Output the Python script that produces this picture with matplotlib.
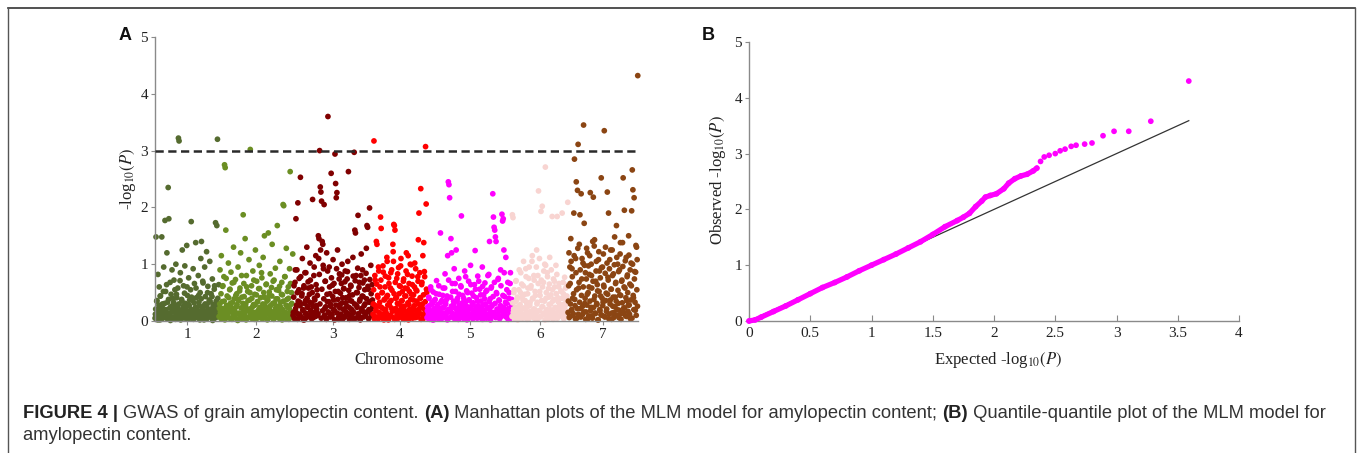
import matplotlib
matplotlib.use("Agg")
import matplotlib.pyplot as plt
from matplotlib.lines import Line2D

# ---------------- data ----------------
chrom_names = ["1", "2", "3", "4", "5", "6", "7"]
chrom_lengths = [64, 74, 80, 54, 85, 56, 70]
chrom_colors = ["#556b2f", "#6b8e23", "#800000", "#ff0000", "#ff00ff", "#f8d4d1", "#8b4513"]

# upper / scattered SNPs per chromosome (in order along the chromosome)
chr1 = [0.12,1.48,0.35,0.05,0.82,0.21,0.6,0.02,0.44,0.15,
        1.48,0.3,0.09,0.95,0.18,1.77,0.52,0.07,1.2,0.33,
        2.35,1.8,0.11,0.68,0.25,0.04,0.9,0.4,0.16,0.72,
        0.28,0.06,1.0,0.47,0.13,0.58,3.22,3.17,0.19,0.85,
        0.03,0.38,1.25,0.22,0.62,0.1,0.97,0.31,0.08,1.33,
        0.45,0.17,0.76,0.27,0.05,0.55,1.75,0.14,0.36,0.92,
        0.2,0.66,0.09,1.38,0.41,0.24,0.12,0.8,0.33,0.06,
        0.5,1.1,1.4,0.18,0.7,0.26,0.02,0.95,0.43,0.15,
        1.22,0.3,0.61,0.08,0.37,1.05,0.21,0.48,0.11,0.74,
        0.29,0.04,0.56,0.19,1.73,0.35,1.68,3.2,0.13,0.64]
chr2 = [0.22,0.9,0.05,1.15,0.34,0.61,0.13,0.78,2.75,2.7,
        1.6,0.27,0.44,0.08,1.02,0.19,0.55,0.31,0.86,0.04,
        0.67,0.16,1.3,0.39,0.1,0.73,0.25,0.48,0.02,0.95,
        0.36,0.14,0.58,1.2,0.07,0.42,0.23,1.87,0.66,0.11,
        1.45,0.3,0.8,0.18,0.52,0.06,1.08,0.37,3.02,0.21,
        0.62,0.09,0.88,0.29,0.15,0.47,1.25,0.03,0.7,0.34,
        0.12,0.57,0.98,0.24,0.41,0.08,0.76,0.19,1.12,0.5,
        1.5,0.27,0.05,0.65,0.35,0.14,1.55,0.44,0.22,0.83,
        0.1,0.59,1.35,0.31,0.04,0.72,0.17,0.93,0.39,0.26,
        1.68,0.12,0.54,0.07,1.05,0.33,0.2,0.68,0.46,2.05,
        2.03,0.15,0.78,0.09,1.28,0.38,0.24,0.6,0.03,0.92,
        2.63,0.29,0.5,0.11,1.18]
chr3 = [0.15,0.62,0.04,0.9,1.8,0.28,0.5,2.08,0.11,0.75,
        0.33,2.53,0.07,0.44,1.1,0.2,0.58,0.02,0.85,0.36,
        0.13,1.3,0.25,0.69,0.09,0.47,1.02,0.18,0.6,0.31,
        2.14,0.06,0.8,0.4,0.16,1.15,0.27,0.55,0.1,1.5,
        1.45,3.0,2.36,2.27,2.11,1.4,1.35,0.92,2.05,0.22,
        0.7,0.05,1.2,0.34,3.6,0.14,0.95,0.48,0.26,2.6,
        0.08,0.63,1.08,0.37,0.19,2.94,2.42,2.17,2.26,1.25,
        0.52,0.03,0.83,0.29,0.12,0.66,1.0,0.41,0.21,0.57,
        0.07,0.88,0.32,0.15,0.74,1.05,2.63,0.24,0.45,0.1,
        0.61,0.35,0.18,1.12,0.04,2.97,1.6,1.55,0.8,0.27,
        0.5,1.86,0.13,0.68,0.38,0.06,1.18,0.22,0.9,0.43,
        0.16,0.72,0.3,0.09,1.28,1.68,1.65,0.56,0.2,1.99,
        0.34,0.98,0.11,0.64,0.25]
chr4 = [0.3,3.17,0.08,0.72,0.19,1.4,1.35,0.45,0.04,0.88,
        0.26,0.6,1.83,1.63,0.12,0.5,0.97,0.21,0.37,0.06,
        0.79,0.15,0.42,1.05,0.28,0.02,0.66,0.33,0.1,0.85,
        0.23,0.54,0.07,1.22,1.7,1.68,1.6,0.4,0.17,0.75,
        0.31,0.05,0.94,0.48,0.13,0.61,1.1,0.25,0.36,0.09,
        0.7,0.2,0.03,0.58,0.44,1.2,0.14,0.82,1.15,0.29,
        0.52,0.08,0.38,0.99,0.18,0.64,0.11,0.46,0.27,1.02,
        0.06,0.55,0.35,0.16,0.78,1.43,1.9,0.22,0.41,2.33,
        0.12,0.68,0.3,0.04,1.38,0.87,0.19,3.07,2.06,0.5]
chr5 = [0.18,0.05,0.42,0.27,0.09,0.6,0.14,0.33,0.02,0.51,
        0.22,0.07,0.38,0.16,0.71,0.11,0.29,0.04,0.47,0.2,
        1.55,0.13,0.36,0.06,0.58,0.24,0.09,0.83,0.31,0.15,
        0.44,1.15,2.45,2.4,2.17,0.19,1.45,1.2,0.66,0.08,
        0.35,0.92,0.23,0.52,1.25,0.12,0.4,0.03,0.75,0.28,
        0.17,0.62,1.85,0.1,0.45,0.26,0.06,0.88,0.34,0.14,
        0.53,0.21,0.04,0.7,0.37,0.11,0.98,0.25,0.49,0.08,
        0.32,0.16,0.64,1.24,0.2,0.41,0.05,0.79,0.27,0.13,
        0.56,0.09,0.35,0.22,0.95,0.03,0.46,0.18,0.67,0.3,
        0.11,0.54,0.24,0.07,0.82,1.4,0.39,0.15,0.6,0.28,
        2.24,1.83,1.65,1.6,1.48,1.4,0.48,0.12,0.73,0.2,
        0.36,0.06,0.9,0.26,1.88,1.76,1.8,1.25,0.43,0.17,
        1.12,0.31,0.08,0.68,0.22,0.5,0.04,0.85,0.14,0.38]
chr6 = [1.87,1.82,0.2,0.55,0.08,0.34,0.71,0.15,0.42,0.03,
        0.26,0.9,0.12,0.5,0.19,0.65,0.06,0.37,1.05,0.23,
        0.47,0.1,0.78,0.31,0.14,0.58,0.04,0.95,0.28,0.17,
        0.62,0.09,1.15,0.39,0.21,0.72,0.05,0.45,0.13,1.25,
        0.33,0.8,2.29,0.18,0.52,0.07,1.93,0.36,2.02,0.25,
        0.68,0.11,1.0,2.71,0.4,0.16,0.85,0.03,0.57,0.29,
        1.12,0.2,0.46,0.09,1.84,0.35,0.74,0.14,0.6,0.24,
        0.98,0.06,1.84,0.41,0.19,0.66,0.3,0.1,0.53,0.22,
        1.9,0.12,0.48,0.05,0.77,0.27,0.38,0.15,0.63,2.09]
chr7 = [0.35,1.2,0.08,0.66,1.45,0.19,0.92,0.4,0.13,1.9,
        2.85,0.27,1.1,2.45,0.05,2.3,3.11,0.58,1.35,1.87,
        0.22,2.24,0.74,0.11,1.02,3.45,1.72,0.31,0.85,0.16,
        1.28,0.47,0.04,0.97,0.6,1.15,2.26,0.24,0.8,0.09,
        1.4,2.18,0.38,1.43,0.14,0.7,1.05,0.29,0.53,0.02,
        1.22,0.88,0.18,0.44,2.52,0.1,0.95,0.33,0.63,3.35,
        0.07,1.3,0.49,0.21,2.27,0.77,1.9,0.12,1.08,0.37,
        0.56,0.03,1.25,0.26,0.83,0.15,1.48,0.42,0.68,1.68,
        0.2,1.0,0.31,0.06,0.9,1.18,0.45,0.13,0.72,1.38,
        2.52,0.23,1.95,0.58,0.09,1.12,0.36,0.81,0.17,1.5,
        0.28,0.65,0.04,1.02,1.94,2.66,2.31,0.41,2.17,0.87,
        0.19,1.33,1.3,1.08,4.32]

# dense low-significance SNPs per chromosome
low1 = [0.05,0.21,0.1,0.36,0.02,0.15,0.28,0.08,0.44,0.12,
        0.03,0.25,0.17,0.52,0.06,0.31,0.11,0.2,0.64,0.04,
        0.14,0.38,0.09,0.23,0.01,0.47,0.16,0.27,0.07,0.33,
        0.19,0.55,0.03,0.12,0.41,0.24,0.06,0.3,0.1,0.71,
        0.02,0.18,0.35,0.08,0.26,0.13,0.49,0.05,0.22,0.15,
        0.6,0.04,0.29,0.11,0.37,0.07,0.2,0.42,0.09,0.16,
        0.03,0.32,0.13,0.24,0.58,0.06,0.19,0.1,0.45,0.27,
        0.02,0.14,0.39,0.08,0.22,0.67,0.05,0.17,0.3,0.11,
        0.26,0.04,0.5,0.13,0.2,0.07,0.35,0.16,0.09,0.43,
        0.01,0.23,0.12,0.62,0.18,0.06,0.28,0.1,0.4,0.15]
low2 = [0.08,0.3,0.15,0.48,0.04,0.22,0.62,0.11,0.35,0.02,
        0.19,0.75,0.07,0.27,0.13,0.41,0.05,0.56,0.17,0.24,
        0.03,0.33,0.1,0.68,0.2,0.06,0.45,0.14,0.29,0.01,
        0.38,0.12,0.53,0.08,0.23,0.8,0.04,0.31,0.16,0.43,
        0.09,0.26,0.02,0.6,0.18,0.36,0.07,0.21,0.5,0.13,
        0.05,0.4,0.25,0.11,0.72,0.03,0.28,0.15,0.46,0.09,
        0.34,0.19,0.06,0.57,0.22,0.12,0.85,0.04,0.3,0.17,
        0.42,0.08,0.24,0.64,0.14,0.02,0.37,0.2,0.51,0.1,
        0.27,0.06,0.44,0.16,0.7,0.03,0.32,0.12,0.23,0.55,
        0.07,0.39,0.18,0.05,0.61,0.26,0.11,0.47,0.02,0.2,
        0.35,0.09,0.78,0.15,0.28,0.04,0.52,0.13,0.4,0.22,
        0.06,0.66,0.17,0.31,0.1]
low3 = [0.1,0.42,0.05,0.68,0.22,0.15,0.9,0.03,0.35,0.55,
        0.12,0.27,0.78,0.07,0.48,0.19,0.02,0.62,0.31,0.14,
        0.85,0.06,0.4,0.24,0.58,0.09,0.33,0.72,0.17,0.04,
        0.5,0.26,0.11,0.95,0.37,0.08,0.64,0.21,0.45,0.13,
        1.1,0.82,0.3,1.25,0.05,0.56,0.18,0.98,0.39,0.1,
        0.7,0.25,0.03,0.47,0.88,0.16,0.34,0.6,0.07,0.29,
        0.76,0.12,0.43,0.2,0.66,0.02,0.52,0.28,0.92,0.14,
        0.38,0.06,0.74,0.23,0.49,0.11,0.81,0.32,0.04,0.57,
        0.19,0.69,0.09,0.41,0.26,0.87,0.13,0.54,0.03,0.36,
        0.63,0.21,0.08,0.46,0.79,0.15,0.3,0.71,0.05,0.5,
        0.24,0.93,0.1,0.59,0.35,0.02,0.8,0.18,0.44,0.67,
        0.07,0.27,0.55,0.12,0.84,0.39,0.16,0.61,0.04,0.33,
        0.73,0.2,0.48,0.09,0.37]
low4 = [0.12,0.55,0.04,0.8,0.27,0.18,0.65,0.07,0.42,0.95,
        0.15,0.33,0.06,0.72,0.24,0.5,0.1,0.86,0.02,0.38,
        0.6,0.2,0.13,1.12,0.45,0.05,0.76,0.29,0.09,0.58,
        0.36,0.9,0.17,1.35,1.05,0.48,0.03,0.68,0.22,0.41,
        0.11,0.83,0.3,0.06,0.62,0.19,0.97,0.35,0.14,0.52,
        0.04,0.74,0.26,0.44,0.08,0.88,0.16,0.57,0.32,0.02,
        0.66,0.21,1.0,0.12,0.47,0.79,0.05,0.37,0.25,0.6,
        0.1,0.92,0.18,0.53,0.07,0.7,0.3,0.14,0.85,0.4,
        0.03,0.64,0.23,1.15,0.46,0.09,0.78,0.34,0.17,0.56]
low5 = [0.06,0.25,0.12,0.4,0.03,0.18,0.55,0.09,0.3,0.15,
        0.02,0.36,0.21,0.08,0.48,0.13,0.27,0.05,0.62,0.19,
        0.1,0.33,0.04,0.23,0.45,0.14,0.07,0.58,0.29,0.11,
        0.38,0.02,0.2,0.72,0.16,0.06,0.42,0.26,0.09,0.52,
        0.13,0.3,0.04,0.66,0.22,0.1,0.35,0.17,0.03,0.47,
        0.24,0.08,0.6,0.14,0.32,0.05,0.4,0.19,0.11,0.78,
        0.27,0.02,0.5,0.15,0.37,0.07,0.22,0.64,0.12,0.3,
        0.04,0.44,0.18,0.09,0.56,0.25,0.13,0.35,0.06,0.7,
        0.2,0.1,0.46,0.16,0.03,0.61,0.28,0.08,0.39,0.14,
        0.52,0.05,0.23,0.8,0.11,0.34,0.19,0.02,0.58,0.26,
        0.09,0.43,0.15,0.68,0.31,0.06,0.5,0.21,0.12,0.75,
        0.37,0.04,0.27,0.62,0.17,0.09,0.45,0.24,0.85,0.13,
        0.33,0.07,0.55,0.2,0.03,0.4,0.16,0.66,0.1,0.29]
low6 = [0.08,0.32,0.15,0.5,0.04,0.24,0.7,0.11,0.38,0.02,
        0.19,0.55,0.07,0.29,0.85,0.13,0.42,0.05,0.62,0.22,
        0.1,0.36,0.92,0.17,0.03,0.48,0.26,0.75,0.09,0.33,
        0.58,0.14,1.05,0.4,0.06,0.8,0.21,0.52,0.12,0.95,
        0.3,0.04,0.66,0.18,1.1,0.45,0.08,0.72,0.25,0.6,
        0.14,0.88,0.35,0.02,0.98,0.5,0.2,0.78,0.1,0.42,
        0.65,0.07,0.3,0.9,0.16,0.55,0.03,0.38,0.7,0.23,
        0.12,0.48,0.82,0.05,0.34,0.6,0.18,0.27,0.09,0.52,
        0.4,0.13,0.68,0.04,0.3,0.2,0.58,0.1,0.44,0.16]
low7 = [0.15,0.62,0.06,0.95,0.3,1.05,0.2,0.78,0.1,0.48,
        1.15,0.38,0.04,0.85,0.55,0.22,1.28,0.12,0.68,0.33,
        0.9,0.07,0.45,1.1,0.26,0.6,0.16,0.98,0.4,0.03,
        0.74,0.28,1.2,0.5,0.09,0.82,0.35,0.18,1.0,0.58,
        0.05,0.7,0.24,1.32,0.44,0.13,0.88,0.31,0.64,0.02,
        1.08,0.52,0.2,0.76,0.11,0.94,0.4,0.27,1.18,0.6,
        0.08,0.84,0.36,0.17,1.02,0.47,0.72,0.04,0.92,0.3,
        1.25,0.56,0.14,0.8,0.42,0.06,0.99,0.25,0.66,0.35,
        1.12,0.1,0.54,0.87,0.19,0.46,1.38,0.03,0.7,0.32,
        0.96,0.15,0.6,0.23,1.06,0.41,0.08,0.78,0.5,0.28,
        1.16,0.12,0.9,0.37,0.62,0.05,1.0,0.45,0.2,0.74,
        0.33,0.86,0.1,0.55,0.26]

chrom_values = [chr1, chr2, chr3, chr4, chr5, chr6, chr7]
chrom_low = [low1, low2, low3, low4, low5, low6, low7]
threshold = 3.0

qq_exp_dense = [0.0,0.05,0.1,0.2,0.3,0.4,0.5,0.6,0.7,0.8,0.9,1.0,1.1,1.2,1.3,1.4,1.5,
                1.6,1.7,1.75,1.8,1.85,1.9,1.93,1.97,2.02,2.08,2.12,2.17,2.22,2.27,2.32,2.35]
qq_obs_dense = [0.0,0.02,0.07,0.17,0.27,0.38,0.49,0.6,0.69,0.79,0.9,1.0,1.1,1.2,1.31,1.42,1.55,
                1.69,1.8,1.86,1.93,2.05,2.15,2.22,2.25,2.28,2.37,2.47,2.55,2.6,2.63,2.69,2.74]
qq_exp_tail = [2.38,2.41,2.45,2.5,2.54,2.58,2.63,2.67,2.74,2.8,2.89,2.98,3.10,3.28,3.59]
qq_obs_tail = [2.86,2.94,2.97,3.0,3.05,3.08,3.13,3.15,3.17,3.19,3.32,3.40,3.40,3.58,4.30]
qq_ref = [0.0, 3.59]

# ---------------- figure ----------------
W, H = 1358, 453
plt.rcParams["font.family"] = ["Liberation Serif", "DejaVu Serif"]
plt.rcParams["mathtext.fontset"] = "stix"
fig = plt.figure(figsize=(W / 100, H / 100), dpi=100)
fig.patch.set_facecolor("white")

spine_c = "#8a8a8a"
txt_c = "#222222"

# Panel A
axA = fig.add_axes([155 / W, 132 / H, 483 / W, 284 / H])
offset = 0
centers = []
for vals, low, L, col in zip(chrom_values, chrom_low, chrom_lengths, chrom_colors):
    n = len(low)
    xs_low = [offset + (i + 0.1) / n * L for i in range(n)]
    axA.scatter(xs_low, low, s=17, color=col, edgecolors="none", clip_on=False, zorder=2)
    n = len(vals)
    xs = [offset + (i + 0.6) / n * L for i in range(n)]
    axA.scatter(xs, vals, s=17, color=col, edgecolors="none", clip_on=False, zorder=2)
    centers.append(offset + L / 2)
    offset += L
axA.axhline(threshold, color="#2a2a2a", lw=1.8, ls=(0, (3.3, 1.8)), zorder=3)
axA.set_xlim(0, offset)
axA.set_ylim(0, 5)
axA.set_xticks(centers)
axA.set_xticklabels(chrom_names)
axA.set_yticks([0, 1, 2, 3, 4, 5])
for s in ["top", "right"]:
    axA.spines[s].set_visible(False)
for s in ["left", "bottom"]:
    axA.spines[s].set_color(spine_c)
    axA.spines[s].set_linewidth(1.0)
axA.tick_params(axis="both", colors=spine_c, labelcolor=txt_c, labelsize=11, length=3, width=0.8, pad=2)
axA.set_xlabel("Chromosome", fontsize=12, color=txt_c)
axA.xaxis.set_label_coords(0.505, -0.11)
axA.set_ylabel("-log$_{10}$$(P)$", fontsize=12, color=txt_c)
axA.yaxis.set_label_coords(-0.036, 0.5)

# Panel B
axB = fig.add_axes([749 / W, 132 / H, 490 / W, 279 / H])
axB.plot(qq_ref, qq_ref, color="#333333", lw=0.9, zorder=2)
axB.plot(qq_exp_dense, qq_obs_dense, color="#ff00ff", lw=3.8, solid_capstyle="round", zorder=3, clip_on=False)
axB.scatter(qq_exp_dense + qq_exp_tail, qq_obs_dense + qq_obs_tail, s=17, color="#ff00ff",
            edgecolors="none", zorder=3, clip_on=False)
axB.set_xlim(0, 4)
axB.set_ylim(0, 5)
axB.set_xticks([0, 0.5, 1, 1.5, 2, 2.5, 3, 3.5, 4])
axB.set_xticklabels(["0", "0.5", "1", "1.5", "2", "2.5", "3", "3.5", "4"])
axB.set_yticks([0, 1, 2, 3, 4, 5])
for s in ["top", "right"]:
    axB.spines[s].set_visible(False)
for s in ["left", "bottom"]:
    axB.spines[s].set_color(spine_c)
    axB.spines[s].set_linewidth(1.0)
axB.tick_params(axis="both", colors=spine_c, labelcolor=txt_c, labelsize=11, width=0.8, pad=2)
axB.tick_params(axis="x", direction="in", length=4, pad=4)
axB.tick_params(axis="y", direction="out", length=3)
axB.set_xlabel("Expected -log$_{10}$$(P)$", fontsize=12, color=txt_c)
axB.xaxis.set_label_coords(0.508, -0.105)
axB.set_ylabel("Observed -log$_{10}$$(P)$", fontsize=12, color=txt_c)
axB.yaxis.set_label_coords(-0.043, 0.505)

# Panel letters
fig.text(125 / W, 1 - 35 / H, "A", fontsize=13, weight="bold", family="Liberation Sans",
         ha="center", va="center", color="#111111")
fig.text(708 / W, 1 - 35 / H, "B", fontsize=13, weight="bold", family="Liberation Sans",
         ha="center", va="center", color="#111111")

# Frame
fc = "#555555"
fig.add_artist(Line2D([8 / W, 1355 / W], [1 - 8 / H, 1 - 8 / H], transform=fig.transFigure, color="#333333", lw=1.2))
fig.add_artist(Line2D([8 / W, 8 / W], [0, 1 - 8 / H], transform=fig.transFigure, color=fc, lw=1.0))
fig.add_artist(Line2D([1355 / W, 1355 / W], [0, 1 - 8 / H], transform=fig.transFigure, color=fc, lw=1.0))

# Caption
renderer = fig.canvas.get_renderer()
line1 = [("FIGURE 4 | ", "bold"), ("GWAS of grain amylopectin content. ", "normal"), ("(A)", "bold"),
         (" Manhattan plots of the MLM model for amylopectin content; ", "normal"), ("(B)", "bold"),
         (" Quantile-quantile plot of the MLM model for", "normal")]
x = 23 / W
y1 = 1 - 414 / H
for txt, w in line1:
    col = "#222222" if w == "bold" else "#333333"
    t = fig.text(x, y1, txt, fontsize=13.2, weight=w, family="Liberation Sans", color=col, va="center")
    bb = t.get_window_extent(renderer)
    x = bb.x1 / W
fig.text(23 / W, 1 - 436 / H, "amylopectin content.", fontsize=13.2, family="Liberation Sans",
         color="#333333", va="center")

fig.savefig("out.png", dpi=100, facecolor="white")
